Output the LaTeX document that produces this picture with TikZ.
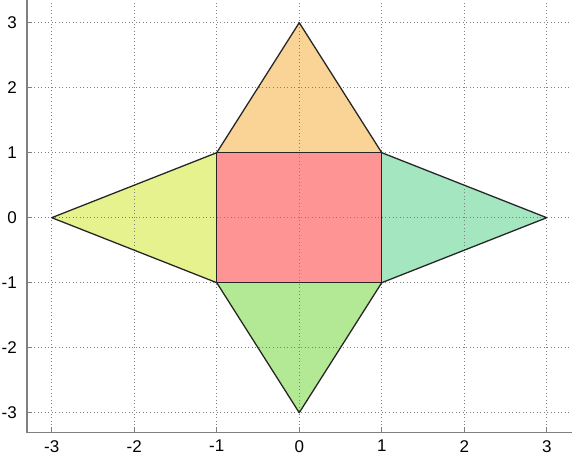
\documentclass[tikz,border=0pt]{standalone}
\usepackage{fontspec}
\setmainfont{Liberation Sans}
\usepackage{tikz}
\usetikzlibrary{calc}
\usepackage{xcolor}
\definecolor{netred}{HTML}{FF9494}
\definecolor{netorange}{HTML}{F9D496}
\definecolor{netyellow}{HTML}{E6F28E}
\definecolor{netmint}{HTML}{A3E6C0}
\definecolor{netgreen}{HTML}{B3E894}
\tikzset{
  netface/.style={draw=black!85, line width=1.1pt, line join=round},
  netgrid/.style={draw=black!50, line width=0.7pt, dash pattern=on 0.7pt off 2.3pt},
  netaxis/.style={draw=black!50, line width=1.1pt},
  nettick/.style={draw=black!50, line width=0.8pt},
  netlabel/.style={font=\fontsize{14.5}{16}\selectfont, inner sep=0pt},
}

\begin{document}
\begin{tikzpicture}[x=2.475cm,y=1.95cm]
  \useasboundingbox (-3.627,-3.711) rectangle (3.306,3.349);

  % net of the pyramid
  \coordinate (a) at (-1,-1);
  \coordinate (b) at (1,-1);
  \coordinate (c) at (1,1);
  \coordinate (d) at (-1,1);
  \coordinate (top) at (0,3);
  \coordinate (bot) at (0,-3);
  \coordinate (lft) at (-3,0);
  \coordinate (rgt) at (3,0);

  \fill[netorange] (d) -- (top) -- (c) -- cycle;
  \fill[netyellow] (a) -- (lft) -- (d) -- cycle;
  \fill[netmint] (b) -- (rgt) -- (c) -- cycle;
  \fill[netgreen] (a) -- (bot) -- (b) -- cycle;
  \fill[netred] (a) rectangle (c);

  % grid
  \foreach \k in {-3,...,3} {
    \draw[netgrid] (\k,-3.3) -- (\k,3.349);
    \draw[netgrid] (-3.3,\k) -- (3.3,\k);
  }

  \draw[netface] (d) -- (top) -- (c) -- (rgt) -- (b) -- (bot) -- (a) -- (lft) -- cycle;
  \draw[netface] (a) rectangle (c);

  % axes
  \draw[netaxis] (-3.3,3.349) -- (-3.3,-3.3) -- (3.306,-3.3);
  \foreach \k in {-3,...,3} {
    \draw[nettick] (\k,-3.3) -- ++(0,0.08);
    \draw[nettick] (-3.3,\k) -- ++(0.065,0);
    \node[netlabel, anchor=north] (xl\k) at (\k,-3.42) {\k};
    \node[netlabel, anchor=east] (yl\k) at (-3.42,\k) {\k};
  }
\end{tikzpicture}
\end{document}
